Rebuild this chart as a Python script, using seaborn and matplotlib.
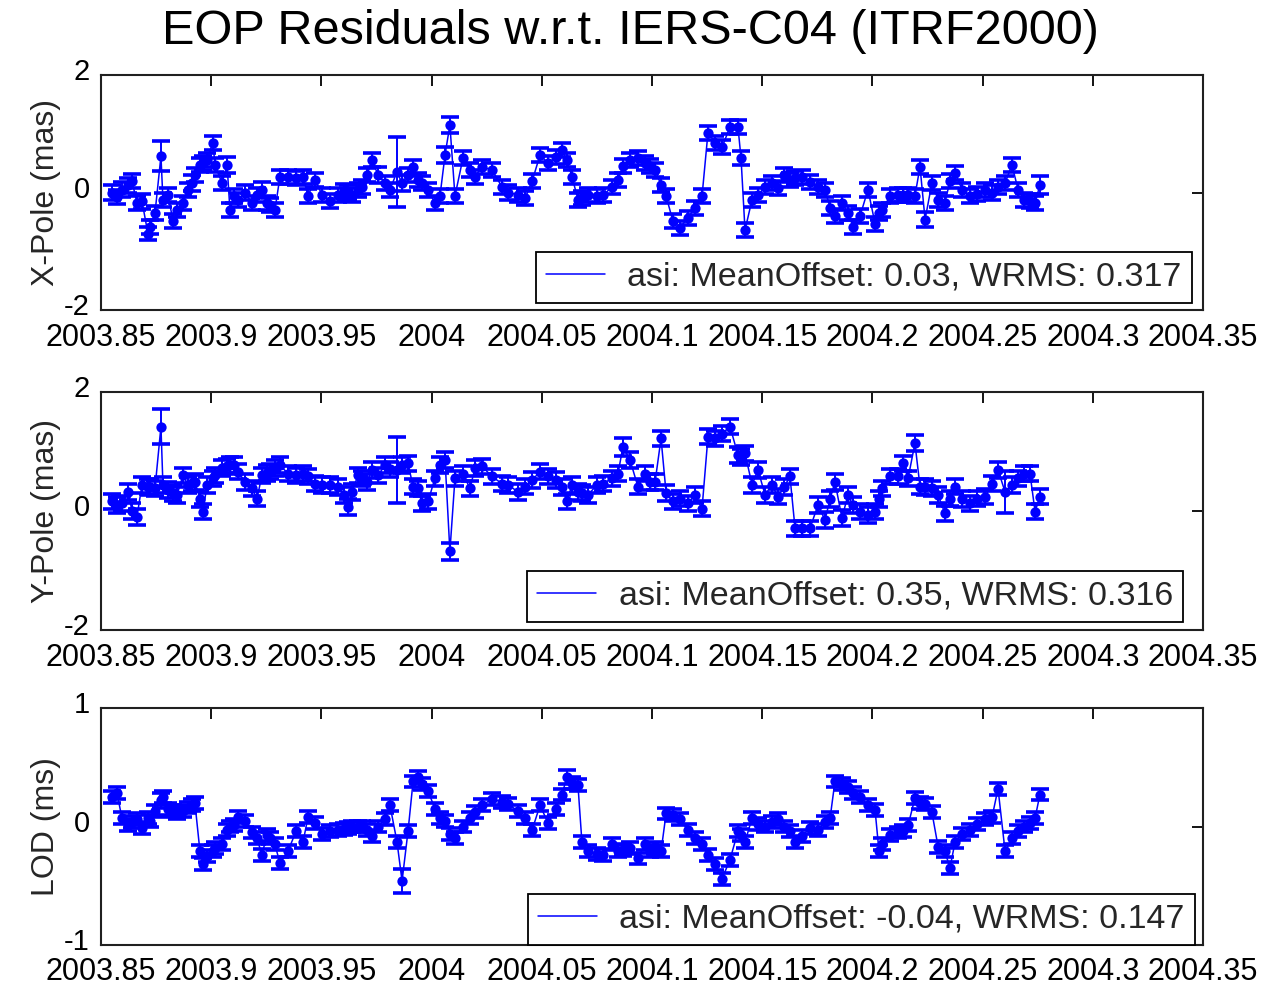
import matplotlib
matplotlib.use('Agg')
import matplotlib.pyplot as plt
import matplotlib.ticker as mticker
import matplotlib.transforms as mtransforms
import seaborn as sns
import pandas as pd

# epochs (decimal year), shared by all three series
epochs = [
    2003.8550, 2003.8573, 2003.8595, 2003.8623, 2003.8641, 2003.8663, 2003.8686, 2003.8713, 2003.8722, 2003.8745,
    2003.8772, 2003.8781, 2003.8804, 2003.8827, 2003.8845, 2003.8872, 2003.8895, 2003.8913, 2003.8926, 2003.8949,
    2003.8963, 2003.8981, 2003.9008, 2003.9017, 2003.9049, 2003.9072, 2003.9085, 2003.9103, 2003.9122, 2003.9153,
    2003.9185, 2003.9208, 2003.9230, 2003.9253, 2003.9267, 2003.9289, 2003.9312, 2003.9348, 2003.9385, 2003.9417,
    2003.9439, 2003.9471, 2003.9503, 2003.9539, 2003.9575, 2003.9603, 2003.9621, 2003.9639, 2003.9666, 2003.9684,
    2003.9707, 2003.9730, 2003.9757, 2003.9789, 2003.9811, 2003.9843, 2003.9866, 2003.9893, 2003.9916, 2003.9938,
    2003.9956, 2003.9984, 2004.0015, 2004.0038, 2004.0061, 2004.0083, 2004.0106, 2004.0142, 2004.0174, 2004.0197,
    2004.0229, 2004.0274, 2004.0319, 2004.0347, 2004.0392, 2004.0424, 2004.0456, 2004.0492, 2004.0528, 2004.0564,
    2004.0592, 2004.0614, 2004.0637, 2004.0664, 2004.0682, 2004.0710, 2004.0750, 2004.0778, 2004.0819, 2004.0846,
    2004.0868, 2004.0900, 2004.0936, 2004.0968, 2004.0991, 2004.1014, 2004.1041, 2004.1064, 2004.1095, 2004.1127,
    2004.1163, 2004.1195, 2004.1227, 2004.1254, 2004.1286, 2004.1318, 2004.1354, 2004.1390, 2004.1404, 2004.1422,
    2004.1454, 2004.1481, 2004.1513, 2004.1544, 2004.1572, 2004.1599, 2004.1626, 2004.1649, 2004.1681, 2004.1717,
    2004.1753, 2004.1785, 2004.1808, 2004.1830, 2004.1862, 2004.1889, 2004.1912, 2004.1944, 2004.1980, 2004.2012,
    2004.2030, 2004.2044, 2004.2080, 2004.2116, 2004.2139, 2004.2162, 2004.2193, 2004.2216, 2004.2239, 2004.2270,
    2004.2298, 2004.2329, 2004.2352, 2004.2375, 2004.2407, 2004.2443, 2004.2475, 2004.2511, 2004.2543, 2004.2570,
    2004.2602, 2004.2633, 2004.2661, 2004.2688, 2004.2715, 2004.2738, 2004.2760,
]

# X-Pole residuals (mas)
xpole = [
    0.00, -0.08, 0.05, 0.12, 0.19, -0.18, -0.15, -0.70, -0.58, -0.35,
    0.62, -0.12, -0.04, -0.49, -0.30, -0.18, 0.05, 0.16, 0.30, 0.47,
    0.50, 0.55, 0.85, 0.47, 0.16, 0.47, -0.30, -0.06, -0.12, 0.00,
    -0.18, -0.05, 0.05, -0.18, -0.22, -0.30, 0.27, 0.27, 0.25, 0.27,
    -0.06, 0.22, -0.04, -0.15, -0.04, 0.02, 0.00, -0.04, 0.05, 0.10,
    0.30, 0.55, 0.30, 0.16, 0.05, 0.35, 0.16, 0.30, 0.44, 0.21,
    0.16, 0.05, -0.18, -0.06, 0.64, 1.15, -0.06, 0.58, 0.38, 0.27,
    0.44, 0.38, 0.10, 0.00, -0.04, -0.10, 0.19, 0.64, 0.50, 0.60,
    0.72, 0.55, 0.27, -0.12, -0.10, -0.04, -0.06, -0.05, 0.10, 0.21,
    0.45, 0.55, 0.58, 0.50, 0.45, 0.38, 0.13, -0.06, -0.49, -0.60,
    -0.43, -0.26, -0.06, 1.02, 0.85, 0.77, 1.12, 1.12, 0.58, -0.64,
    -0.12, -0.05, 0.10, 0.16, 0.07, 0.30, 0.21, 0.24, 0.27, 0.18,
    0.10, 0.05, -0.26, -0.40, -0.18, -0.35, -0.58, -0.40, 0.05, -0.53,
    -0.35, -0.30, -0.06, -0.05, -0.04, -0.05, -0.06, 0.44, -0.46, 0.16,
    -0.12, -0.18, 0.20, 0.33, 0.05, -0.06, -0.03, 0.05, 0.00, 0.10,
    0.16, 0.47, 0.05, -0.12, -0.15, -0.18, 0.13,
]
xpole_err = [
    0.12, 0.12, 0.13, 0.12, 0.12, 0.12, 0.13, 0.11, 0.12, 0.12,
    0.25, 0.12, 0.12, 0.12, 0.12, 0.12, 0.12, 0.13, 0.12, 0.12,
    0.12, 0.12, 0.12, 0.12, 0.12, 0.13, 0.12, 0.12, 0.12, 0.12,
    0.12, 0.12, 0.13, 0.12, 0.12, 0.12, 0.12, 0.12, 0.12, 0.12,
    0.12, 0.12, 0.12, 0.12, 0.12, 0.12, 0.12, 0.12, 0.12, 0.12,
    0.12, 0.12, 0.13, 0.12, 0.12, 0.60, 0.13, 0.12, 0.12, 0.12,
    0.12, 0.12, 0.12, 0.12, 0.13, 0.13, 0.12, 0.12, 0.12, 0.12,
    0.12, 0.12, 0.12, 0.12, 0.12, 0.12, 0.12, 0.12, 0.12, 0.12,
    0.12, 0.12, 0.12, 0.12, 0.12, 0.12, 0.12, 0.12, 0.12, 0.12,
    0.12, 0.12, 0.12, 0.12, 0.12, 0.12, 0.12, 0.12, 0.12, 0.12,
    0.12, 0.12, 0.12, 0.12, 0.12, 0.12, 0.12, 0.12, 0.12, 0.12,
    0.12, 0.12, 0.12, 0.12, 0.12, 0.12, 0.12, 0.12, 0.12, 0.12,
    0.12, 0.12, 0.12, 0.12, 0.12, 0.12, 0.12, 0.12, 0.12, 0.12,
    0.12, 0.12, 0.12, 0.12, 0.12, 0.12, 0.12, 0.12, 0.12, 0.12,
    0.12, 0.12, 0.12, 0.12, 0.12, 0.12, 0.12, 0.12, 0.12, 0.12,
    0.12, 0.12, 0.12, 0.12, 0.12, 0.12, 0.15,
]

# Y-Pole residuals (mas)
ypole = [
    0.16, 0.10, 0.13, 0.32, 0.00, -0.10, 0.44, 0.41, 0.40, 0.38,
    1.42, 0.44, 0.35, 0.30, 0.27, 0.60, 0.44, 0.47, 0.49, 0.20,
    -0.01, 0.44, 0.55, 0.60, 0.72, 0.75, 0.77, 0.77, 0.66, 0.49,
    0.38, 0.21, 0.60, 0.64, 0.66, 0.72, 0.77, 0.63, 0.60, 0.63,
    0.58, 0.46, 0.44, 0.44, 0.40, 0.27, 0.07, 0.32, 0.60, 0.55,
    0.49, 0.69, 0.60, 0.77, 0.70, 0.69, 0.77, 0.80, 0.41, 0.38,
    0.13, 0.16, 0.55, 0.77, 0.86, -0.68, 0.55, 0.63, 0.38, 0.72,
    0.75, 0.58, 0.46, 0.44, 0.32, 0.41, 0.52, 0.66, 0.58, 0.52,
    0.40, 0.16, 0.44, 0.32, 0.30, 0.27, 0.44, 0.46, 0.55, 0.63,
    1.08, 0.86, 0.41, 0.63, 0.49, 0.49, 1.22, 0.30, 0.16, 0.21,
    0.13, 0.27, 0.04, 1.25, 1.22, 1.30, 1.42, 0.94, 0.91, 0.97,
    0.44, 0.69, 0.27, 0.44, 0.24, 0.40, 0.58, -0.29, -0.29, -0.29,
    0.10, -0.15, 0.20, 0.49, -0.12, 0.27, 0.10, -0.01, -0.07, -0.01,
    0.20, 0.38, 0.58, 0.58, 0.80, 0.55, 1.14, 0.41, 0.40, 0.38,
    0.27, -0.04, 0.21, 0.41, 0.20, 0.13, 0.21, 0.24, 0.46, 0.69,
    0.32, 0.44, 0.55, 0.63, 0.63, -0.01, 0.24,
]
ypole_err = [
    0.13, 0.13, 0.13, 0.13, 0.13, 0.13, 0.13, 0.13, 0.13, 0.13,
    0.30, 0.13, 0.13, 0.13, 0.13, 0.13, 0.13, 0.13, 0.13, 0.13,
    0.13, 0.13, 0.13, 0.13, 0.13, 0.13, 0.13, 0.13, 0.13, 0.13,
    0.13, 0.13, 0.13, 0.13, 0.13, 0.13, 0.13, 0.13, 0.13, 0.13,
    0.13, 0.13, 0.13, 0.13, 0.13, 0.13, 0.13, 0.13, 0.13, 0.13,
    0.13, 0.13, 0.13, 0.13, 0.13, 0.55, 0.13, 0.13, 0.13, 0.13,
    0.13, 0.13, 0.13, 0.13, 0.13, 0.15, 0.13, 0.13, 0.13, 0.13,
    0.13, 0.13, 0.13, 0.13, 0.13, 0.13, 0.13, 0.13, 0.13, 0.13,
    0.13, 0.13, 0.13, 0.13, 0.13, 0.13, 0.13, 0.13, 0.13, 0.13,
    0.15, 0.13, 0.13, 0.13, 0.13, 0.13, 0.13, 0.13, 0.13, 0.13,
    0.13, 0.13, 0.13, 0.13, 0.13, 0.13, 0.13, 0.13, 0.13, 0.13,
    0.13, 0.13, 0.13, 0.13, 0.13, 0.13, 0.13, 0.13, 0.13, 0.13,
    0.13, 0.13, 0.13, 0.13, 0.13, 0.13, 0.13, 0.13, 0.13, 0.13,
    0.13, 0.13, 0.13, 0.13, 0.13, 0.13, 0.13, 0.13, 0.13, 0.13,
    0.13, 0.13, 0.13, 0.13, 0.13, 0.13, 0.13, 0.13, 0.13, 0.13,
    0.36, 0.13, 0.13, 0.13, 0.13, 0.13, 0.13,
]

# LOD residuals (ms)
lod = [
    0.25, 0.28, 0.07, 0.01, 0.04, 0.06, -0.01, 0.07, 0.05, 0.13,
    0.22, 0.25, 0.15, 0.13, 0.11, 0.13, 0.16, 0.18, 0.20, -0.21,
    -0.32, -0.25, -0.21, -0.18, -0.15, -0.03, 0.00, 0.01, 0.08, 0.05,
    -0.05, -0.10, -0.24, -0.07, -0.10, -0.15, -0.31, -0.21, -0.04, -0.13,
    0.08, 0.03, -0.06, -0.04, -0.03, -0.02, -0.01, 0.00, 0.00, 0.00,
    -0.03, -0.08, 0.00, 0.06, 0.18, -0.13, -0.46, -0.04, 0.38, 0.42,
    0.36, 0.30, 0.15, 0.07, 0.05, -0.06, -0.10, 0.00, 0.07, 0.12,
    0.18, 0.23, 0.21, 0.19, 0.13, 0.07, -0.03, 0.18, 0.03, 0.15,
    0.27, 0.42, 0.37, 0.35, -0.13, -0.21, -0.23, -0.24, -0.15, -0.21,
    -0.20, -0.18, -0.27, -0.15, -0.21, -0.18, -0.21, 0.11, 0.10, 0.06,
    -0.03, -0.10, -0.15, -0.24, -0.32, -0.44, -0.28, -0.04, -0.07, -0.13,
    0.07, 0.02, 0.00, 0.04, 0.06, 0.00, -0.04, -0.13, -0.08, -0.01,
    -0.03, 0.04, 0.07, 0.38, 0.36, 0.33, 0.28, 0.25, 0.18, 0.14,
    -0.21, -0.15, -0.07, -0.05, -0.04, 0.01, 0.24, 0.20, 0.19, 0.12,
    -0.17, -0.21, -0.35, -0.13, -0.06, -0.03, 0.02, 0.06, 0.08, 0.32,
    -0.21, -0.10, -0.04, 0.00, 0.03, 0.07, 0.27,
]
lod_err = [
    0.05, 0.05, 0.05, 0.05, 0.05, 0.05, 0.05, 0.05, 0.05, 0.05,
    0.06, 0.05, 0.05, 0.05, 0.05, 0.05, 0.05, 0.05, 0.05, 0.05,
    0.05, 0.05, 0.05, 0.05, 0.05, 0.05, 0.05, 0.05, 0.05, 0.05,
    0.05, 0.05, 0.05, 0.05, 0.05, 0.05, 0.05, 0.05, 0.05, 0.05,
    0.05, 0.05, 0.05, 0.05, 0.05, 0.05, 0.05, 0.05, 0.05, 0.05,
    0.05, 0.05, 0.05, 0.05, 0.05, 0.05, 0.10, 0.05, 0.05, 0.05,
    0.05, 0.05, 0.05, 0.05, 0.05, 0.05, 0.05, 0.05, 0.05, 0.05,
    0.05, 0.05, 0.05, 0.05, 0.05, 0.05, 0.05, 0.05, 0.05, 0.05,
    0.05, 0.06, 0.05, 0.05, 0.05, 0.05, 0.05, 0.05, 0.05, 0.05,
    0.05, 0.05, 0.05, 0.05, 0.05, 0.05, 0.05, 0.05, 0.05, 0.05,
    0.05, 0.05, 0.05, 0.05, 0.05, 0.05, 0.05, 0.05, 0.05, 0.05,
    0.05, 0.05, 0.05, 0.05, 0.05, 0.05, 0.05, 0.05, 0.05, 0.05,
    0.05, 0.05, 0.05, 0.05, 0.05, 0.05, 0.05, 0.05, 0.05, 0.05,
    0.05, 0.05, 0.05, 0.05, 0.05, 0.05, 0.05, 0.05, 0.05, 0.05,
    0.05, 0.05, 0.05, 0.05, 0.05, 0.05, 0.05, 0.05, 0.05, 0.05,
    0.05, 0.05, 0.05, 0.05, 0.05, 0.05, 0.05,
]

xticks = [2003.85, 2003.9, 2003.95, 2004.0, 2004.05, 2004.1, 2004.15, 2004.2, 2004.25, 2004.3, 2004.35]
xtick_labels = ['2003.85', '2003.9', '2003.95', '2004', '2004.05', '2004.1',
                '2004.15', '2004.2', '2004.25', '2004.3', '2004.35']

panels = [
    ('X-Pole (mas)', xpole, xpole_err, (-2, 2), [-2, 0, 2], 'asi: MeanOffset: 0.03, WRMS: 0.317'),
    ('Y-Pole (mas)', ypole, ypole_err, (-2, 2), [-2, 0, 2], 'asi: MeanOffset: 0.35, WRMS: 0.316'),
    ('LOD (ms)', lod, lod_err, (-1, 1), [-1, 0, 1], 'asi: MeanOffset: -0.04, WRMS: 0.147'),
]

sns.set_style('white')
plt.rcParams['font.family'] = ['Liberation Sans', 'DejaVu Sans']
plt.rcParams['axes.unicode_minus'] = False

BLUE = '#0000ff'
W, H = 1265, 989
fig = plt.figure(figsize=(W / 100, H / 100), dpi=100)

# axes boxes in pixels: (top, bottom)
boxes = [(75, 310), (392, 630), (708, 945)]
left_px, right_px = 101, 1203
legend_anchor = [(1192, 303), (1183, 622), (1195, 945)]

for (top, bot), (label, vals, errs, ylim, yt, leg), (lx, ly) in zip(boxes, panels, legend_anchor):
    ax = fig.add_axes([left_px / W, 1 - bot / H, (right_px - left_px) / W, (bot - top) / H])
    df = pd.DataFrame({'epoch': epochs, 'value': vals})

    ax.errorbar(epochs, vals, yerr=errs, fmt='none', ecolor=BLUE,
                elinewidth=1.4, capsize=6.3, capthick=2.6, zorder=2)
    sns.lineplot(data=df, x='epoch', y='value', color=BLUE, linewidth=1.1,
                 label=leg, ax=ax, zorder=3)
    sns.scatterplot(data=df, x='epoch', y='value', color=BLUE, s=55,
                    linewidth=0, legend=False, ax=ax, zorder=4)

    ax.set_xlim(2003.85, 2004.35)
    ax.set_ylim(*ylim)
    ax.set_yticks(yt)
    ax.set_yticklabels([str(v) for v in yt])
    ax.xaxis.set_major_locator(mticker.FixedLocator(xticks))
    ax.xaxis.set_major_formatter(mticker.FixedFormatter(xtick_labels))
    ax.set_xlabel('')
    ax.set_ylabel(label, fontsize=23, labelpad=2)
    ax.tick_params(axis='both', which='both', direction='in', length=8, width=1.3,
                   top=True, right=True, colors='black')
    ax.tick_params(axis='x', pad=9, labelsize=22)
    ax.tick_params(axis='y', pad=8, labelsize=21)
    # lift the y tick labels slightly so "-2" clears the first date label
    lift = mtransforms.ScaledTranslation(0, 4 / 72, fig.dpi_scale_trans)
    for t in ax.get_yticklabels():
        t.set_transform(t.get_transform() + lift)
    for sp in ax.spines.values():
        sp.set_visible(True)
        sp.set_color('#202020')
        sp.set_linewidth(1.5)

    lg = ax.legend(loc='lower right', bbox_to_anchor=(lx / W, 1 - ly / H),
                   bbox_transform=fig.transFigure, fontsize=24.5, frameon=True,
                   fancybox=False, framealpha=1, edgecolor='black',
                   handlelength=1.75, handletextpad=0.65, borderpad=0.3,
                   borderaxespad=0)
    lg.get_frame().set_linewidth(1.3)
    lg.set_zorder(10)

fig.text(0.498, 1 - 31 / H, 'EOP Residuals w.r.t. IERS-C04 (ITRF2000)',
         ha='center', va='center', fontsize=35, color='black')

fig.savefig('out.png', dpi=100, facecolor='white')
